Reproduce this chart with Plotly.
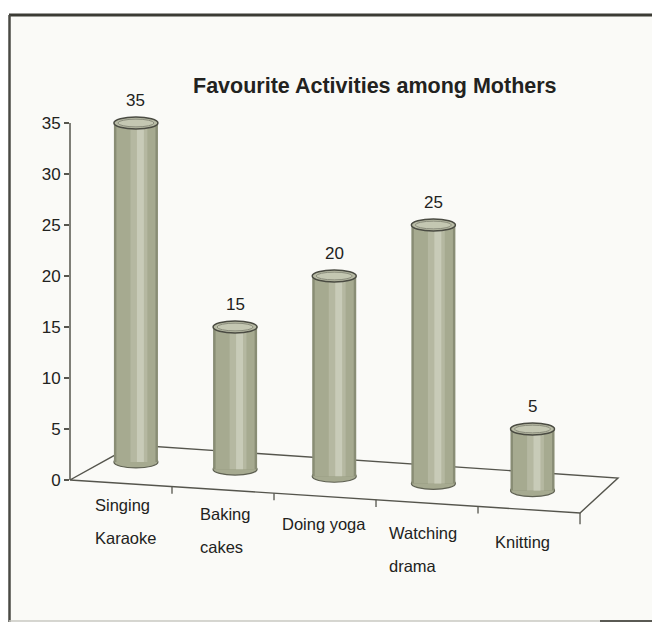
import plotly.graph_objects as go

# ---------------- data ----------------
title_text = "Favourite Activities among Mothers"
categories = ["Singing Karaoke", "Baking cakes", "Doing yoga", "Watching drama", "Knitting"]
label_lines = [["Singing", "Karaoke"], ["Baking", "cakes"], ["Doing yoga"], ["Watching", "drama"], ["Knitting"]]
values = [35, 15, 20, 25, 5]
y_tick_vals = [0, 5, 10, 15, 20, 25, 30, 35]
y_tick_text = ["0", "5", "10", "15", "20", "25", "30", "35"]

# ---------------- style ----------------
FONT = "Liberation Sans, Arial, Helvetica, sans-serif"
TXT = "#222220"
LINE = "#55554d"
W = 652
H = 626
ML, MR, MT, MB = 70, 12, 92, 85
XR = [-0.665, 5.084]
YR = [-5.98, 38.04]
BAR_W = 0.444
ELL_H = 0.58
pw = W - ML - MR
ph = H - MT - MB


def px_x(px):
    return (px - ML) / pw


def px_y(py):
    return (H - MB - py) / ph


xs = list(range(len(categories)))
# perspective: cylinders stand on a tilted floor
base = [1.76 - 0.7 * i for i in xs]
heights = [v - b for v, b in zip(values, base)]

fig = go.Figure()

layers = [
    (BAR_W, 0.0, "#898d75"),
    (BAR_W - 0.05, 0.0, "#a6aa90"),
    (0.17, 0.03, "#b5b8a1"),
    (0.07, 0.045, "#c8cbb8"),
]
for w, shift, col in layers:
    fig.add_trace(go.Bar(
        x=xs, y=heights, base=base, width=w, offset=-w / 2 + shift,
        marker=dict(color=col, line=dict(width=0)),
        hoverinfo="skip", showlegend=False,
    ))

shapes = []
# frame background
shapes.append(dict(type="rect", xref="paper", yref="paper",
                   x0=px_x(9), x1=px_x(660), y0=px_y(621), y1=px_y(15),
                   fillcolor="#fafaf7", line=dict(width=0), layer="below"))
# frame borders
shapes.append(dict(type="line", xref="paper", yref="paper",
                   x0=px_x(9), x1=px_x(660), y0=px_y(15), y1=px_y(15),
                   line=dict(color="#3b3b34", width=3), layer="below"))
shapes.append(dict(type="line", xref="paper", yref="paper",
                   x0=px_x(9.5), x1=px_x(9.5), y0=px_y(15), y1=px_y(622),
                   line=dict(color="#4a4a44", width=2.5), layer="below"))
shapes.append(dict(type="line", xref="paper", yref="paper",
                   x0=px_x(9), x1=px_x(660), y0=px_y(621), y1=px_y(621),
                   line=dict(color="#c8c8c2", width=1.5), layer="below"))
shapes.append(dict(type="line", xref="paper", yref="paper",
                   x0=px_x(600), x1=px_x(660), y0=px_y(621), y1=px_y(621),
                   line=dict(color="#5a5a54", width=2), layer="below"))

# floor (tilted plane)
FL = (XR[0], 0.0)
FR = (4.479, -3.235)
BR = (4.862, 0.196)
BL = (-0.029, 3.43)
shapes.append(dict(type="path", xref="x", yref="y",
                   path=f"M {FL[0]},{FL[1]} L {FR[0]},{FR[1]} L {BR[0]},{BR[1]} L {BL[0]},{BL[1]} Z",
                   line=dict(color=LINE, width=1.4), fillcolor="rgba(0,0,0,0)", layer="below"))
# front edge category ticks
for k in range(1, 6):
    t = k / 5
    fx = FL[0] + t * (FR[0] - FL[0])
    fy = FL[1] + t * (FR[1] - FL[1])
    ln = 0.7 if k < 5 else 1.1
    shapes.append(dict(type="line", xref="x", yref="y", x0=fx, x1=fx, y0=fy, y1=fy - ln,
                       line=dict(color=LINE, width=1.3), layer="below"))

# bottom ellipses of cylinders
for i, b in zip(xs, base):
    shapes.append(dict(type="circle", xref="x", yref="y",
                       x0=i - BAR_W / 2, x1=i + BAR_W / 2, y0=b - ELL_H, y1=b + ELL_H,
                       fillcolor="#a6aa90", line=dict(color="#5e6052", width=1.2), layer="below"))
# top ellipses
for i, v in zip(xs, values):
    shapes.append(dict(type="circle", xref="x", yref="y",
                       x0=i - BAR_W / 2, x1=i + BAR_W / 2, y0=v - ELL_H, y1=v + ELL_H,
                       fillcolor="#b8bba5", line=dict(color="#4a4b42", width=1.5), layer="above"))
    shapes.append(dict(type="circle", xref="x", yref="y",
                       x0=i - BAR_W / 2 + 0.04, x1=i + BAR_W / 2 - 0.04,
                       y0=v - ELL_H + 0.2, y1=v + ELL_H - 0.2,
                       fillcolor="#c4c7b2", line=dict(color="#8a8c7c", width=1), layer="above"))

# y axis line (0..35)
shapes.append(dict(type="line", xref="paper", yref="y", x0=0, x1=0,
                   y0=y_tick_vals[0], y1=y_tick_vals[-1],
                   line=dict(color=LINE, width=1.5), layer="above"))

annotations = []
annotations.append(dict(text=f"<b>{title_text}</b>", xref="paper", yref="paper",
                        x=px_x(375), y=px_y(86), xanchor="center", yanchor="middle",
                        showarrow=False, font=dict(family=FONT, size=21.5, color=TXT)))
for i, v in zip(xs, values):
    annotations.append(dict(text=str(v), x=i, y=v, xref="x", yref="y",
                            yanchor="bottom", yshift=11, showarrow=False,
                            font=dict(family=FONT, size=17, color=TXT)))
for i, lines in zip(xs, label_lines):
    txt = "<br>".join(f"<span style='font-size:16.5px'>{s}</span>" for s in lines)
    annotations.append(dict(text=txt, x=i, y=-1.4 - 0.9 * i, xref="x", yref="y",
                            xanchor="center", yanchor="top", xshift=-10, align="left",
                            showarrow=False, font=dict(family=FONT, size=25, color=TXT)))

fig.update_layout(
    width=W, height=H,
    margin=dict(l=ML, r=MR, t=MT, b=MB),
    paper_bgcolor="white", plot_bgcolor="rgba(0,0,0,0)",
    barmode="overlay", showlegend=False,
    shapes=shapes, annotations=annotations,
    xaxis=dict(range=XR, visible=False, fixedrange=True),
    yaxis=dict(range=YR, tickvals=y_tick_vals, ticktext=y_tick_text,
               ticks="outside", ticklen=5, tickwidth=1.5, tickcolor=LINE,
               showline=False, showgrid=False, zeroline=False,
               tickfont=dict(family=FONT, size=17, color=TXT), fixedrange=True),
)

fig.write_html("out.html", config={"displayModeBar": False},
               post_script="document.body.style.margin='0px';")
